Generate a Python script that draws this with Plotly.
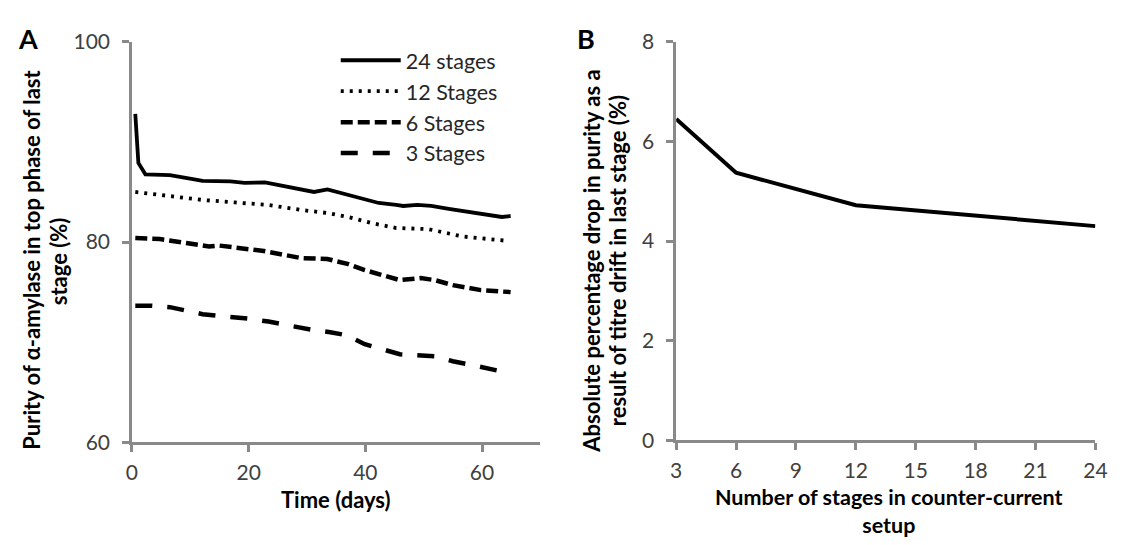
import plotly.graph_objects as go

# Panel A data (time in days, purity %)
t24 = [0.57, 1.1, 2.3, 6.5, 9.7, 12.1, 16.9, 19.3, 22.8, 26.6, 31.2, 33.5, 36.2, 39.2, 42.3, 45.3, 46.5, 48.9, 51.3, 54.3, 58.6, 63.4, 64.9]
p24 = [92.8, 87.9, 86.76, 86.67, 86.35, 86.1, 86.05, 85.9, 85.95, 85.5, 85.0, 85.25, 84.85, 84.35, 83.9, 83.7, 83.6, 83.7, 83.6, 83.3, 82.9, 82.5, 82.6]

t12 = [0.57, 6.5, 12.1, 17.7, 23.4, 29.0, 33.5, 37.1, 41.0, 45.3, 50.7, 56.7, 64.6]
p12 = [85.0, 84.6, 84.2, 83.95, 83.7, 83.2, 82.9, 82.5, 81.9, 81.4, 81.3, 80.55, 80.1]

t6 = [0.57, 4.8, 9.3, 13.2, 14.9, 20.5, 22.6, 29.0, 33.5, 37.1, 39.9, 45.9, 49.5, 51.9, 55.0, 59.8, 64.9]
p6 = [80.4, 80.3, 79.9, 79.55, 79.65, 79.2, 79.1, 78.4, 78.3, 77.8, 77.2, 76.2, 76.4, 76.2, 75.7, 75.2, 75.0]

t3 = [0.57, 3.1, 6.5, 8.8, 12.1, 14.4, 17.7, 20.0, 23.4, 25.6, 29.0, 31.2, 34.0, 36.8, 39.9, 45.9, 51.9, 55.0, 59.2, 63.1, 64.9]
p3 = [73.65, 73.65, 73.5, 73.2, 72.8, 72.65, 72.5, 72.35, 72.06, 71.8, 71.45, 71.2, 71.0, 70.7, 69.8, 68.8, 68.6, 68.1, 67.6, 67.1, 66.9]

# Panel B data
stages = [3, 6, 12, 24]
drop = [6.45, 5.37, 4.72, 4.30]

names = ["24 stages", "12 Stages", "6 Stages", "3 Stages"]

FONT = "Lato"
AX = "#898989"
TXT = "#404040"
W, H = 1132, 545

fig = go.Figure()
fig.add_trace(go.Scatter(x=t24, y=p24, mode="lines", name=names[0],
                         line=dict(color="black", width=3.8), xaxis="x", yaxis="y"))
fig.add_trace(go.Scatter(x=t12, y=p12, mode="lines", name=names[1],
                         line=dict(color="black", width=3.8, dash="3px,6px"), xaxis="x", yaxis="y"))
fig.add_trace(go.Scatter(x=t6, y=p6, mode="lines", name=names[2],
                         line=dict(color="black", width=4.5, dash="12px,5px"), xaxis="x", yaxis="y"))
fig.add_trace(go.Scatter(x=t3, y=p3, mode="lines", name=names[3],
                         line=dict(color="black", width=4.5, dash="17px,15px"), xaxis="x", yaxis="y"))
fig.add_trace(go.Scatter(x=stages, y=drop, mode="lines", showlegend=False,
                         line=dict(color="black", width=4), xaxis="x2", yaxis="y2"))

axcommon = dict(showgrid=False, zeroline=False, showline=True, linecolor=AX, linewidth=2.5,
                ticks="outside", ticklen=7, tickwidth=2.5, tickcolor=AX,
                tickfont=dict(family=FONT, size=21, color=TXT))

fig.update_layout(
    width=W, height=H,
    margin=dict(l=0, r=0, t=0, b=0),
    paper_bgcolor="white", plot_bgcolor="white",
    font=dict(family=FONT),
    xaxis=dict(domain=[128 / W, 543 / W], range=[0, 70], tickvals=[0, 20, 40, 60],
               anchor="y", ticklabelstandoff=3, **axcommon),
    yaxis=dict(domain=[1 - 449 / H, 1 - 29 / H], range=[60, 100], tickvals=[60, 80, 100],
               anchor="x", ticklabelstandoff=8, **axcommon),
    xaxis2=dict(domain=[681 / W, 1107 / W], range=[3, 24], tickvals=[3, 6, 9, 12, 15, 18, 21, 24],
                anchor="y2", ticklabelstandoff=3, **axcommon),
    yaxis2=dict(domain=[1 - 447 / H, 1 - 29 / H], range=[0, 8], tickvals=[0, 2, 4, 6, 8],
                anchor="x2", ticklabelstandoff=8, **axcommon),
    legend=dict(x=0.296, y=1 - 27 / H, xanchor="left", yanchor="top",
                font=dict(family=FONT, size=21.5, color="#262626"),
                bgcolor="rgba(0,0,0,0)", itemwidth=60, tracegroupgap=0),
    showlegend=True,
)


def lab(text, px, py, size=22, angle=0):
    return dict(text="<b>" + text + "</b>", x=px / W, y=1 - py / H, xref="paper", yref="paper",
                textangle=angle, showarrow=False, font=dict(family=FONT, size=size, color="black"),
                xanchor="center", yanchor="middle", align="center")


ann = [
    lab("Purity of α-amylase in top phase of last", 26, 258, angle=-90),
    lab("stage (%)", 53, 259, angle=-90),
    lab("Absolute percentage drop in purity as a", 595, 259, angle=-90),
    lab("result of titre drift in last stage (%)", 621, 259, angle=-90),
    lab("Time (days)", 335, 509),
    lab("Number of stages in counter-current</b><br><b>setup", 897, 521, size=21.5),
    lab("A", 22, 26, size=27),
    lab("B", 589, 26, size=27),
]
fig.update_layout(annotations=ann)

fig.write_html("out.html", post_script="document.body.style.margin='0px';")
